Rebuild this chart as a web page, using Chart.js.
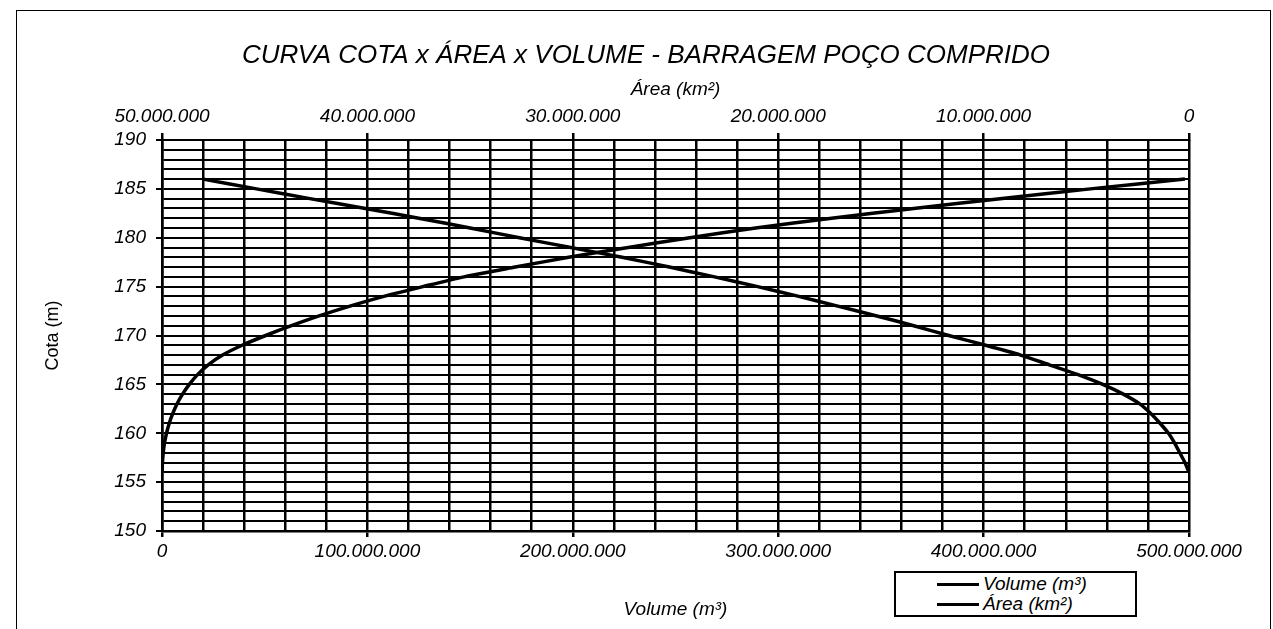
<!DOCTYPE html>
<html>
<head>
<meta charset="utf-8">
<script src="https://cdn.jsdelivr.net/npm/chart.js@4.4.1/dist/chart.umd.min.js"></script>
<style>
  body { margin: 0; background: #fff; overflow: hidden; }
  #frame { position: absolute; left: 16px; top: 10px; width: 1255px; height: 700px; border: 1.5px solid #000; box-sizing: border-box; }
  #wrap { position: absolute; left: 0; top: 0; width: 1273px; height: 629px; }
  #legend { position: absolute; left: 894px; top: 571px; width: 243px; height: 46px; border: 2px solid #000; box-sizing: border-box; background: #fff;
            font: italic 19px "Liberation Sans", Arial, sans-serif; color: #000; }
  #legend .item { position: absolute; left: 41px; height: 20px; line-height: 20px; white-space: nowrap; }
  #legend .swatch { display: inline-block; width: 42px; height: 3px; background: #000; vertical-align: middle; margin-right: 4px; }
</style>
</head>
<body>
<div id="frame"></div>
<div id="wrap"><canvas id="chart-cav"></canvas></div>
<div id="legend"></div>
<script>
// cota (m)
var cota = [156,157,158,159,160,161,162,163,164,165,166,167,168,169,170,171,172,173,174,175,176,177,178,179,180,181,182,183,184,185,186]
// volume acumulado (milhões de m³)
var volume = [0,0.2,0.6,1.2,2.2,3.5,5.2,7.3,10,13.3,17.3,22.5,29.5,39,50.5,63,76.5,91.5,108,127,147,172,198,227,257,289,326,366,408,452,498]
// área inundada (milhões de m²)
var area = [0,0.2,0.45,0.7,1.0,1.4,1.85,2.4,3.2,4.2,5.4,6.8,8.2,9.9,11.7,13.4,15.2,17.1,19.0,21.0,23.1,25.3,27.6,30.1,32.6,35.0,37.5,40.1,42.8,45.4,48.0]

var fontFam = '"Liberation Sans", Arial, sans-serif'

function fmt(v) {
	return String(Math.round(v)).replace(/\B(?=(\d{3})+(?!\d))/g, '.')
}

var volPts = cota.map(function(c, i) { return {x: volume[i] * 1e6, y: c} })
var areaPts = cota.map(function(c, i) { return {x: area[i] * 1e6, y: c} }).reverse()

var ctx = document.getElementById("chart-cav").getContext("2d")
var chart = new Chart(ctx, {
	type: "line",
	data: {
		datasets: [
			{
				label: "Volume (m³)",
				data: volPts,
				xAxisID: "x",
				yAxisID: "y",
				borderColor: "#000",
				borderWidth: 3.5,
				pointRadius: 0,
				tension: 0.25
			},
			{
				label: "Área (km²)",
				data: areaPts,
				xAxisID: "x2",
				yAxisID: "y",
				borderColor: "#000",
				borderWidth: 3.5,
				pointRadius: 0,
				tension: 0.25
			}
		]
	},

	options: {
		responsive: true,
		maintainAspectRatio: false,
		animation: false,
		layout: { padding: { left: 19, right: 0, top: 0, bottom: 0 } },
		plugins: {
			title: {
				display: true,
				text: "CURVA COTA x ÁREA x VOLUME - BARRAGEM POÇO COMPRIDO",
				color: "#000",
				font: { family: fontFam, size: 26, style: "italic", weight: "normal" },
				padding: { top: 40, bottom: 0 }
			},
			legend: { display: false },
			tooltip: { enabled: false }
		},
		scales: {
			x: {
				type: "linear",
				position: "bottom",
				min: 0,
				max: 500e6,
				ticks: {
					stepSize: 20e6,
					autoSkip: false,
					maxRotation: 0,
					color: "#000",
					padding: 3,
					font: { family: fontFam, size: 19, style: "italic" },
					callback: function(v) { return v % 100e6 === 0 ? fmt(v) : "" }
				},
				grid: {
					color: "#000",
					lineWidth: 2.5,
					tickLength: 6,
					tickColor: function(c) { return c.tick && c.tick.value % 100e6 === 0 ? "#000" : "rgba(0,0,0,0)" }
				},
				border: { color: "#000", width: 2.5 },
				title: {
					display: true,
					text: "Volume (m³)",
					color: "#000",
					font: { family: fontFam, size: 19, style: "italic" },
					padding: { top: 0, bottom: 8 }
				},
				afterFit: function(s) { s.height = 98 }
			},
			x2: {
				type: "linear",
				position: "top",
				reverse: true,
				min: 0,
				max: 50e6,
				ticks: {
					stepSize: 10e6,
					color: "#000",
					padding: 5,
					font: { family: fontFam, size: 19, style: "italic" },
					callback: function(v) { return fmt(v) }
				},
				grid: { drawOnChartArea: false, color: "#000", lineWidth: 2.5, tickLength: 7 },
				border: { color: "#000", width: 2 },
				title: {
					display: true,
					text: "Área (km²)",
					color: "#000",
					font: { family: fontFam, size: 19, style: "italic" },
					padding: { top: 7, bottom: 0 }
				},
				afterFit: function(s) { s.height = 140 - 40 - 26 * 1.2 }
			},
			y: {
				type: "linear",
				min: 150,
				max: 190,
				ticks: {
					stepSize: 1,
					autoSkip: false,
					color: "#000",
					padding: 10,
					font: { family: fontFam, size: 19, style: "italic" },
					callback: function(v) { return v % 5 === 0 ? String(v) : "" }
				},
				grid: {
					color: "#000",
					lineWidth: 2,
					tickLength: 6,
					tickColor: function(c) { return c.tick && c.tick.value % 5 === 0 ? "#000" : "rgba(0,0,0,0)" }
				},
				border: { color: "#000", width: 2.5 },
				title: {
					display: true,
					text: "Cota (m)",
					color: "#000",
					font: { family: fontFam, size: 18 },
					padding: { top: 23, bottom: 0 }
				},
				afterFit: function(s) { s.width = 162 - 19 }
			},
			// eixo vazio à direita, só para reservar a margem
			yR: {
				type: "linear",
				position: "right",
				min: 150,
				max: 190,
				ticks: { display: false },
				grid: { display: false },
				border: { display: false },
				afterFit: function(s) { s.width = 84 }
			}
		}
	}
})

// legenda montada a partir dos datasets
var leg = document.getElementById("legend")
chart.data.datasets.forEach(function(ds, i) {
	var item = document.createElement("div")
	item.className = "item"
	item.style.top = (1 + i * 20) + "px"
	item.innerHTML = '<span class="swatch"></span>' + ds.label
	leg.appendChild(item)
})
</script>
</body>
</html>
